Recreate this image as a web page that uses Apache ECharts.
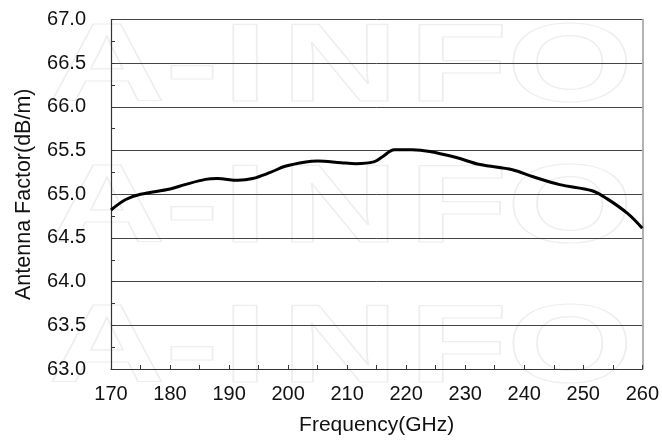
<!DOCTYPE html>
<html>
<head>
<meta charset="utf-8">
<script src="https://cdn.jsdelivr.net/npm/echarts@6/dist/echarts.min.js"></script>
<style>
html,body{margin:0;padding:0;background:#fff;}
#chart{width:662px;height:444px;}
</style>
</head>
<body>
<div id="chart"></div>
<script>
var frequencies = [170, 172.5, 175, 180, 182.5, 186, 188, 191.5, 194, 197, 199.5, 203, 205, 209, 211.5, 214.5, 216, 218, 221, 224, 228.5, 232.5, 238, 241.5, 246, 251.5, 254, 257.5, 260];
var antennaFactor = [64.82, 64.94, 65.0, 65.06, 65.11, 65.17, 65.18, 65.16, 65.18, 65.25, 65.32, 65.37, 65.38, 65.36, 65.35, 65.37, 65.43, 65.51, 65.51, 65.49, 65.42, 65.34, 65.28, 65.20, 65.11, 65.04, 64.95, 64.78, 64.61];
var xTicks = [170, 180, 190, 200, 210, 220, 230, 240, 250, 260];
var yTicks = [63.0, 63.5, 64.0, 64.5, 65.0, 65.5, 66.0, 66.5, 67.0];
var watermarkLetters = ['A', '-', 'I', 'N', 'F', 'O'];

var FONT = '"Liberation Sans", Arial, sans-serif';
var seriesData = frequencies.map(function (f, i) { return [f, antennaFactor[i]]; });

// watermark letter layout (styling only)
var letterCenters = [107, 192, 245, 340, 458, 570];
var rowCenters = [70, 211, 351];
var graphics = [];
rowCenters.forEach(function (cy) {
  watermarkLetters.forEach(function (ch, i) {
    graphics.push({
      type: 'text', x: letterCenters[i], y: cy, scaleX: 1.45, z: -10, silent: true,
      style: {
        text: ch, textAlign: 'center', textVerticalAlign: 'middle',
        font: 'bold 112px ' + FONT, fill: 'rgba(0,0,0,0)', stroke: '#eeeeee', lineWidth: 1.2
      }
    });
  });
});

var chart = echarts.init(document.getElementById('chart'), null, { renderer: 'canvas' });
chart.setOption({
  backgroundColor: '#fff',
  animation: false,
  graphic: graphics,
  grid: { left: 111, right: 18, top: 19.5, bottom: 75 },
  xAxis: {
    type: 'value', min: xTicks[0], max: xTicks[xTicks.length - 1], interval: 10,
    name: 'Frequency(GHz)', nameLocation: 'middle', nameGap: 46,
    nameTextStyle: { fontFamily: FONT, fontSize: 21, color: '#111' },
    axisLine: { show: true, lineStyle: { color: '#333', width: 1.2 } },
    axisTick: { show: true, inside: true, length: 4, lineStyle: { color: '#333' } },
    minorTick: { show: true, splitNumber: 2, length: 4, lineStyle: { color: '#333' } },
    splitLine: { show: false },
    axisLabel: { fontFamily: FONT, fontSize: 20, color: '#111', margin: 15 }
  },
  yAxis: [{
    type: 'value', min: yTicks[0], max: yTicks[yTicks.length - 1], interval: 0.5,
    name: 'Antenna Factor(dB/m)', nameLocation: 'middle', nameGap: 76, nameRotate: 90,
    nameTextStyle: { fontFamily: FONT, fontSize: 21.5, color: '#111' },
    axisLine: { show: true, lineStyle: { color: '#333', width: 1.2 } },
    axisTick: { show: true, inside: true, length: 4, lineStyle: { color: '#333' } },
    minorTick: { show: true, splitNumber: 2, length: 4, lineStyle: { color: '#333' } },
    splitLine: { show: true, lineStyle: { color: '#444', width: 1 } },
    axisLabel: { fontFamily: FONT, fontSize: 20, color: '#111', margin: 25,
      formatter: function (v) { return v.toFixed(1); } }
  }, {
    type: 'value', position: 'right', min: yTicks[0], max: yTicks[yTicks.length - 1],
    axisLine: { show: true, lineStyle: { color: '#999', width: 1.5 } },
    axisTick: { show: false }, axisLabel: { show: false }, splitLine: { show: false }
  }],
  series: [{
    type: 'line', data: seriesData, smooth: 0.35, showSymbol: false, yAxisIndex: 0,
    lineStyle: { color: '#000', width: 3 }, z: 5
  }]
});
</script>
</body>
</html>
